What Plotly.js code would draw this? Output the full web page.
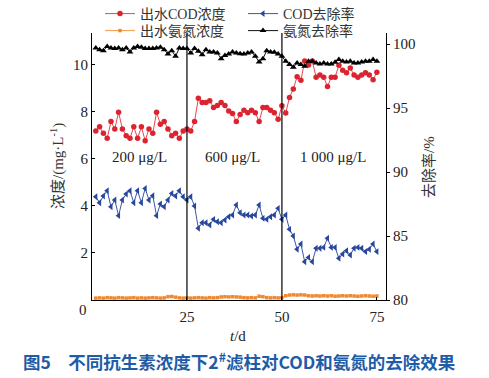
<!DOCTYPE html>
<html>
<head>
<meta charset="utf-8">
<script src="https://cdn.plot.ly/plotly-3.0.1.min.js"></script>
<style>html,body{margin:0;padding:0;background:#fff;}#chart{width:489px;height:378px;}</style>
</head>
<body>
<div id="chart"></div>
<script>
// Days
const days = Array.from({length: 75}, (_, i) => i + 1);

// 出水COD浓度 (mg/L), left axis
const codConc = [7.19,7.37,7.09,6.88,7.59,7.28,7.99,7.28,6.99,6.88,7.37,6.88,7.37,6.78,7.28,7.09,7.99,7.48,7.59,7.28,6.99,7.09,6.88,7.19,7.28,
7.19,7.59,8.58,8.40,8.40,8.48,8.19,8.28,8.40,8.28,8.04,7.94,7.59,7.89,8.07,7.97,8.07,7.97,7.59,8.19,8.19,8.07,7.97,7.69,8.26,
7.96,8.62,8.98,9.50,9.35,10.17,10.00,10.17,9.48,9.57,9.48,9.08,9.48,9.48,9.99,9.77,9.67,9.87,9.57,9.48,9.57,9.67,9.57,9.37,9.69];

// 出水氨氮浓度 (mg/L), left axis
const nh3Conc = [0.08,0.09,0.08,0.10,0.09,0.08,0.10,0.09,0.08,0.09,0.10,0.08,0.09,0.08,0.09,0.10,0.09,0.08,0.09,0.14,0.15,0.12,0.09,0.08,0.09,
0.08,0.09,0.10,0.09,0.08,0.10,0.09,0.10,0.13,0.14,0.13,0.14,0.13,0.12,0.10,0.09,0.10,0.09,0.16,0.14,0.10,0.09,0.10,0.09,0.10,
0.18,0.21,0.22,0.21,0.22,0.21,0.18,0.17,0.18,0.17,0.18,0.17,0.18,0.16,0.17,0.18,0.17,0.18,0.17,0.16,0.17,0.18,0.17,0.16,0.17];

// COD去除率 (%), right axis
const codRemoval = [88.07,87.60,88.13,88.54,87.29,87.81,86.59,87.81,88.28,88.54,87.60,88.54,87.60,88.72,87.81,88.15,86.59,87.50,87.29,87.81,88.33,88.13,88.54,88.07,87.81,
88.07,87.34,85.60,86.04,86.04,85.86,86.30,86.12,86.04,86.25,86.51,86.64,87.42,86.82,86.64,86.64,86.56,86.64,87.42,86.38,86.30,86.51,86.64,87.16,86.30,
86.64,85.52,85.00,83.96,84.38,82.99,83.33,82.99,84.04,84.04,84.11,84.82,84.11,84.11,83.26,83.59,83.85,83.52,84.04,84.11,84.04,83.78,83.96,84.38,83.78];

// 氨氮去除率 (%), right axis
const nh3Removal = [99.69,99.56,99.48,99.81,99.69,99.64,99.69,99.56,99.69,99.38,99.69,99.81,99.74,99.64,99.64,99.64,99.69,99.74,99.56,99.22,99.48,99.04,99.69,99.64,99.64,
99.30,99.64,99.43,99.17,99.56,99.38,99.38,99.30,98.85,99.11,99.22,99.38,99.30,99.24,99.22,99.30,99.38,99.04,98.59,98.85,99.48,99.38,99.35,99.22,99.04,
98.65,98.39,98.18,98.52,98.39,98.26,98.65,98.65,98.52,98.44,98.52,98.44,98.44,98.57,98.78,98.65,98.59,98.65,98.52,98.52,98.59,98.65,98.65,98.78,98.65];

const xTicks = [25, 50, 75];
const yTicks = [2, 4, 6, 8, 10];
const y2Ticks = [80, 85, 90, 95, 100];
const phaseDays = [25, 50];
const phaseLabels = ["200 μg/L", "600 μg/L", "1 000 μg/L"];
const phaseLabelX = [12.6, 37.1, 63.4];

const serif = "Liberation Serif, Times New Roman, Noto Sans CJK SC, serif";

// plot area in pixels
const PL = 92, PR = 386, PT = 33, PB = 300;
const px = v => (v - PL) / (PR - PL);
const py = v => (PB - v) / (PB - PT);

const traces = [
  {x: days, y: codConc, name: "出水COD浓度", type: "scatter", mode: "lines+markers",
   line: {color: "#e8474f", width: 1}, marker: {symbol: "circle", size: 5.5, color: "#dc2430"},
   legend: "legend"},
  {x: days, y: codRemoval, name: "COD去除率", type: "scatter", mode: "lines+markers", yaxis: "y2",
   line: {color: "#3a58a8", width: 1}, marker: {symbol: "triangle-left", size: 6, color: "#26479c"},
   legend: "legend2"},
  {x: days, y: nh3Conc, name: "出水氨氮浓度", type: "scatter", mode: "lines+markers",
   line: {color: "#f29a4a", width: 1}, marker: {symbol: "square", size: 3.5, color: "#ef8a33"},
   legend: "legend3"},
  {x: days, y: nh3Removal, name: "氨氮去除率", type: "scatter", mode: "lines+markers", yaxis: "y2",
   line: {color: "#111", width: 1}, marker: {symbol: "triangle-up", size: 6, color: "#000"},
   legend: "legend4"}
];

function leg(x, y) {
  return {x: x, y: y, xanchor: "left", yanchor: "middle", orientation: "h",
    bgcolor: "rgba(0,0,0,0)", itemwidth: 30, tracegroupgap: 0,
    font: {family: serif, size: 14, color: "#333"}};
}

const shapes = phaseDays.map(d => ({type: "line", xref: "x", yref: "paper", x0: d, x1: d, y0: 0, y1: 1,
  line: {color: "#000", width: 1.2}}));

const annotations = phaseLabels.map((t, i) => ({text: t, xref: "x", yref: "y", x: phaseLabelX[i], y: 6.1,
  xanchor: "center", yanchor: "middle",
  showarrow: false, font: {family: serif, size: 15, color: "#222"}}));

function ann(text, x, y, font, extra) {
  return Object.assign({text: text, xref: "paper", yref: "paper", x: px(x), y: py(y),
    xanchor: "center", yanchor: "middle", showarrow: false, font: font}, extra || {});
}

annotations.push(
  ann("0", 83, 310, {family: serif, size: 15, color: "#222"}),
  ann("<i>t</i>/d", 238, 336, {family: serif, size: 15, color: "#222"}),
  ann("浓度/(mg·L<sup>-1</sup>)", 57, 166, {family: serif, size: 15, color: "#333"}, {textangle: -90}),
  ann("去除率/%", 429, 167, {family: serif, size: 15, color: "#333"}, {textangle: -90}),
  ann("图5　不同抗生素浓度下2<sup>#</sup>滤柱对COD和氨氮的去除效果", 239, 361,
    {family: "Noto Sans CJK SC, sans-serif", size: 17.5, color: "#1f5ca8", weight: "bold"})
);

const layout = {
  width: 489, height: 378,
  margin: {l: PL, r: 489 - PR, t: PT, b: 378 - PB, autoexpand: false},
  paper_bgcolor: "#fff", plot_bgcolor: "#fff",
  showlegend: true,
  legend: leg(px(100), py(14)),
  legend2: leg(px(243), py(14)),
  legend3: leg(px(100), py(31)),
  legend4: leg(px(243), py(31)),
  xaxis: {range: [0, 77.4], tickvals: xTicks, ticks: "inside", ticklen: 3, tickcolor: "#000",
    showline: true, linecolor: "#000", linewidth: 1, showgrid: false, zeroline: false,
    ticklabelstandoff: 3, tickfont: {family: serif, size: 15, color: "#222"}},
  yaxis: {range: [0, 11.36], tickvals: yTicks, ticks: "inside", ticklen: 3, tickcolor: "#000",
    showline: true, linecolor: "#000", linewidth: 1, showgrid: false, zeroline: false,
    tickfont: {family: serif, size: 15, color: "#222"}},
  yaxis2: {range: [80, 100.86], tickvals: y2Ticks, overlaying: "y", side: "right", ticks: "outside",
    ticklen: 3, tickcolor: "#000", showline: true, linecolor: "#000", linewidth: 1,
    showgrid: false, zeroline: false, tickfont: {family: serif, size: 15, color: "#222"}},
  shapes: shapes,
  annotations: annotations
};

Plotly.newPlot("chart", traces, layout, {displayModeBar: false, staticPlot: true});
</script>
</body>
</html>
